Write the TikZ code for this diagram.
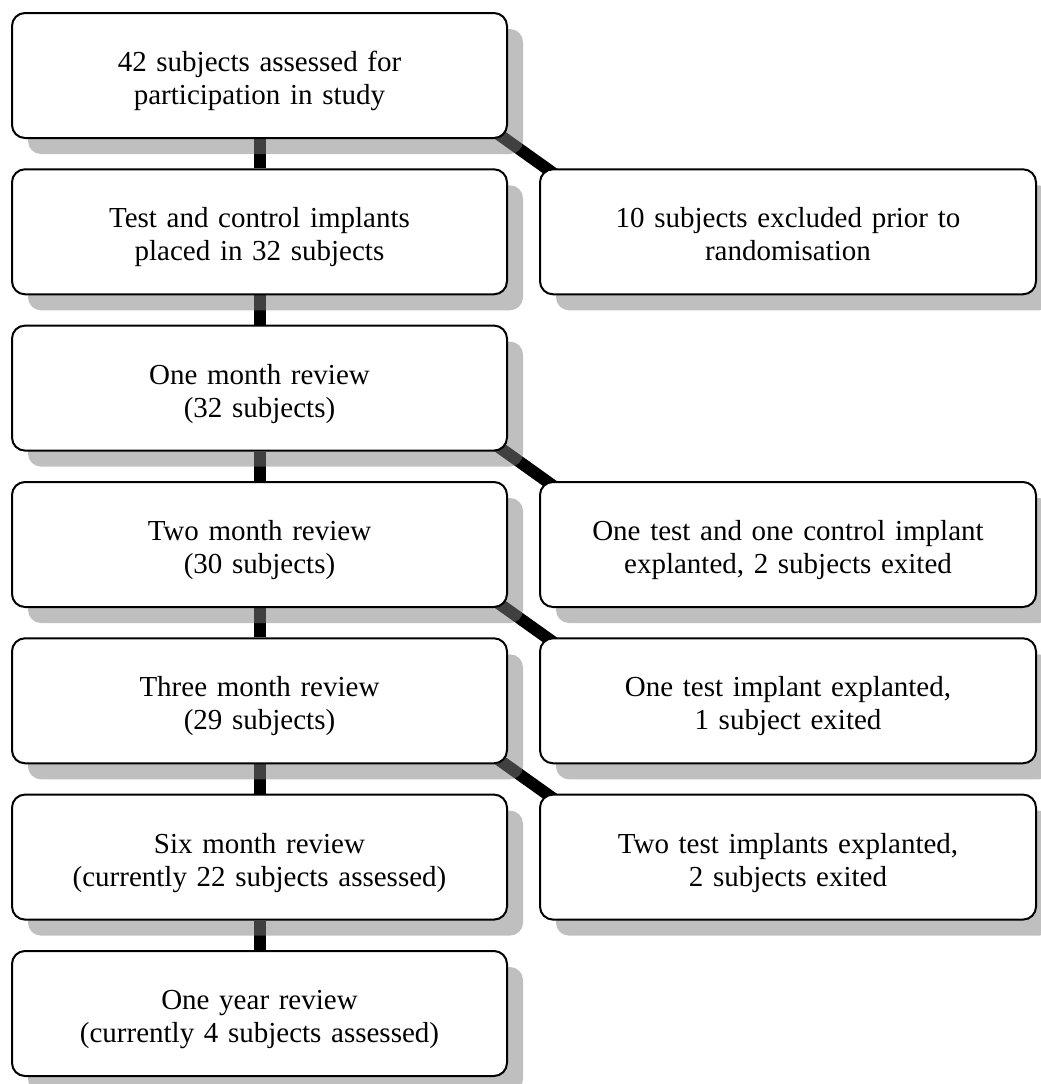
\documentclass[tikz,border=0pt]{standalone}
\usepackage{fontspec}
\setmainfont{Liberation Serif}
\usetikzlibrary{shadows,calc,backgrounds}
\begin{document}
\begin{tikzpicture}[x=1pt,y=-1pt,
  box/.style={draw=black, line width=2pt, fill=white, rounded corners=13pt,
    minimum height=125pt, text width=470pt, align=center, inner sep=0pt,
    text height=25pt, text depth=33pt,
    font=\fontsize{29}{33}\selectfont,
    drop shadow={shadow xshift=16pt, shadow yshift=-16pt, fill=black!50, opacity=0.5}},
  lbox/.style={box, minimum width=495pt},
  rbox/.style={box, minimum width=496pt},
  conn/.style={line width=12pt, draw=black}]
\useasboundingbox (0,0) rectangle (1041,1084);
\node[lbox] (b1) at (259.5,75.5) {42 subjects assessed for\\participation in study};
\node[lbox] (b2) at (259.5,231.8) {Test and control implants\\placed in 32 subjects};
\node[lbox] (b3) at (259.5,388.1) {One month review\\(32 subjects)};
\node[lbox] (b4) at (259.5,544.5) {Two month review\\(30 subjects)};
\node[lbox] (b5) at (259.5,700.8) {Three month review\\(29 subjects)};
\node[lbox] (b6) at (259.5,857.1) {Six month review\\(currently 22 subjects assessed)};
\node[lbox] (b7) at (259.5,1013.5) {One year review\\(currently 4 subjects assessed)};
\node[rbox] (s1) at (788,231.8) {10 subjects excluded prior to\\randomisation};
\node[rbox] (s2) at (788,544.5) {One test and one control implant\\explanted, 2 subjects exited};
\node[rbox] (s3) at (788,700.8) {One test implant explanted,\\1 subject exited};
\node[rbox] (s4) at (788,857.1) {Two test implants explanted,\\2 subjects exited};
\begin{scope}[on background layer]
  \draw[conn] (b1) -- (b2);
  \draw[conn] (b2) -- (b3);
  \draw[conn] (b3) -- (b4);
  \draw[conn] (b4) -- (b5);
  \draw[conn] (b5) -- (b6);
  \draw[conn] (b6) -- (b7);
  \draw[conn] ($(b1.south east)+(-21,-13)$) -- ($(s1.north west)+(20,9)$);
  \draw[conn] ($(b3.south east)+(-21,-13)$) -- ($(s2.north west)+(20,9)$);
  \draw[conn] ($(b4.south east)+(-21,-13)$) -- ($(s3.north west)+(20,9)$);
  \draw[conn] ($(b5.south east)+(-21,-13)$) -- ($(s4.north west)+(20,9)$);
\end{scope}
\end{tikzpicture}
\end{document}
